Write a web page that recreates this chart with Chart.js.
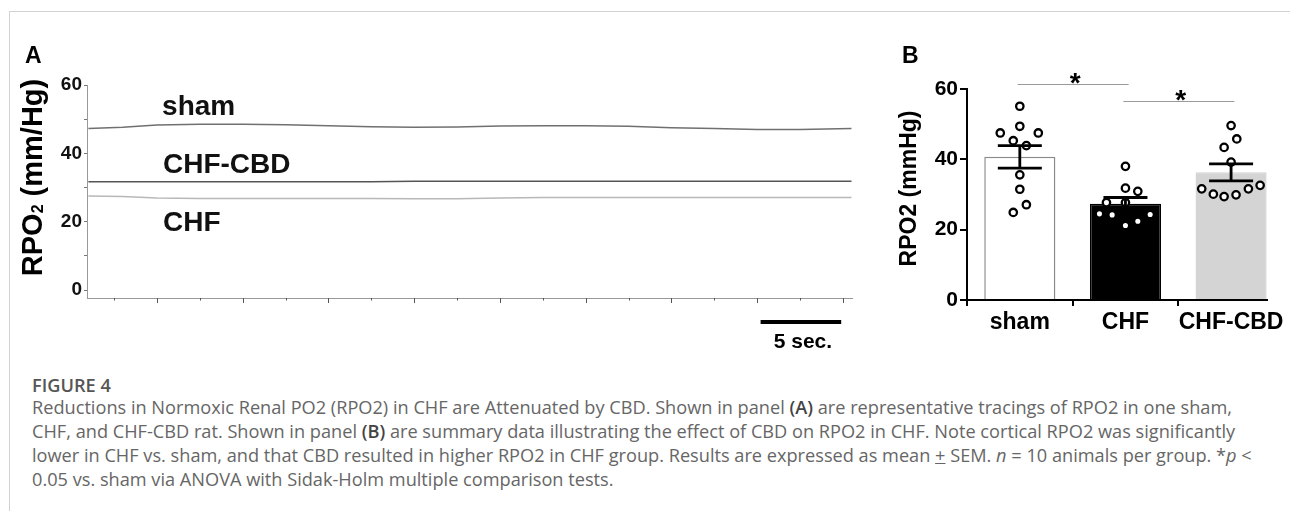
<!DOCTYPE html>
<html><head><meta charset="utf-8">
<script src="https://cdn.jsdelivr.net/npm/chart.js@4.4.0/dist/chart.umd.min.js"></script>
<style>
html,body{margin:0;padding:0;background:#fff;}
body{width:1290px;height:511px;position:relative;overflow:hidden;font-family:"Liberation Sans",Arial,sans-serif;}
#frame{position:absolute;left:9px;top:11px;right:-2px;bottom:-2px;border-top:1px solid #d2d2d2;border-left:1px solid #d2d2d2;}
#cA{position:absolute;left:0;top:0;}
#cB{position:absolute;left:880px;top:0;}
.cap{position:absolute;left:32px;white-space:nowrap;font-family:"Open Sans",Lato,"Liberation Sans",sans-serif;font-size:17px;color:#666;line-height:24px;}
.cap b{color:#444;font-weight:600;}
</style></head>
<body>
<div id="frame"></div>
<canvas id="cA" width="880" height="360"></canvas>
<canvas id="cB" width="410" height="360"></canvas>
<div class="cap" style="top:373px;color:#555;font-weight:600;">FIGURE 4</div>
<div class="cap" style="top:395px;">Reductions in Normoxic Renal PO2 (RPO2) in CHF are Attenuated by CBD. Shown in panel <b>(A)</b> are representative tracings of RPO2 in one sham,</div>
<div class="cap" id="refLine" style="top:419px;">CHF, and CHF-CBD rat. Shown in panel <b>(B)</b> are summary data illustrating the effect of CBD on RPO2 in CHF. Note cortical RPO2 was significantly</div>
<div class="cap" style="top:443px;">lower in CHF vs. sham, and that CBD resulted in higher RPO2 in CHF group. Results are expressed as mean <u>+</u> SEM. <i>n</i> = 10 animals per group. *<i>p</i> &lt;</div>
<div class="cap" style="top:467px;">0.05 vs. sham via ANOVA with Sidak-Holm multiple comparison tests.</div>
<script>
// ---------- Panel A: representative tracings ----------
const traceTime = [-4, -2, 0, 2.5, 5, 7.5, 10, 12.5, 15, 17.5, 20, 22.5, 25, 27.5, 30, 32.5, 35, 37.5, 40.5];
const shamTrace = [47.3, 47.6, 48.3, 48.5, 48.5, 48.4, 48.1, 47.8, 47.6, 47.7, 48.0, 48.1, 48.1, 47.9, 47.5, 47.3, 47.0, 47.0, 47.3];
const chfCbdTrace = [31.7, 31.7, 31.7, 31.7, 31.7, 31.7, 31.7, 31.7, 31.8, 31.8, 31.8, 31.8, 31.8, 31.8, 31.8, 31.8, 31.8, 31.8, 31.8];
const chfTrace = [27.5, 27.4, 26.9, 26.8, 26.8, 26.8, 26.8, 26.8, 26.7, 26.7, 26.9, 27.1, 27.1, 27.1, 27.1, 27.1, 27.1, 27.1, 27.1];
const traceNames = ['sham', 'CHF-CBD', 'CHF'];
const traceYLabels = [0, 20, 40, 60];

// ---------- Panel B: summary data ----------
const groups = ['sham', 'CHF', 'CHF-CBD'];
const groupMeans = [40.7, 27.4, 36.3];
const groupSEM = [3.2, 1.75, 2.4];
const shamPoints = [55.1, 49.4, 47.5, 47.5, 45.3, 43.9, 35.6, 31.5, 27.1, 24.9];
const shamJitter = [0, 0, -0.185, 0.175, -0.062, 0.062, 0, 0, 0.062, -0.062];
const chfPoints = [38.0, 31.8, 30.9, 27.7, 27.7, 24.5, 24.2, 24.3, 22.4, 21.2];
const chfJitter = [0, 0, 0.117, -0.18, 0, -0.246, -0.126, 0.234, 0.117, 0];
const cbdPoints = [49.6, 45.8, 43.4, 39.2, 31.6, 30.1, 29.4, 29.9, 31.6, 32.6];
const cbdJitter = [0, 0.054, -0.066, 0, -0.278, -0.168, -0.066, 0.047, 0.164, 0.275];
const sigPairs = [[0, 1], [1, 2]];
const sigLevels = [61.5, 56.5];
const sigMarks = ['*', '*'];

const FONT = '"Liberation Sans", Arial, sans-serif';

// ===== Panel A =====
const labelPosA = [
  {x: 0.3, y: 51.2},
  {x: 0.35, y: 34.2},
  {x: 0.35, y: 17.4}
];
const panelAPlugin = {
  id: 'panelA',
  afterDraw(chart) {
    const {ctx, scales: {x, y}} = chart;
    ctx.save();
    ctx.strokeStyle = '#555';
    ctx.lineWidth = 1;
    x.ticks.forEach(t => {
      const px = Math.round(x.getPixelForValue(t.value)) + 0.5;
      const len = (Math.abs(t.value % 5) < 1e-6) ? 5 : 2.5;
      ctx.beginPath();
      ctx.moveTo(px, x.top);
      ctx.lineTo(px, x.top + len);
      ctx.stroke();
    });
    ctx.fillStyle = '#111';
    ctx.font = 'bold 28px ' + FONT;
    ctx.textAlign = 'left';
    ctx.textBaseline = 'alphabetic';
    traceNames.forEach((n, i) => {
      ctx.fillText(n, x.getPixelForValue(labelPosA[i].x), y.getPixelForValue(labelPosA[i].y));
    });
    const x0 = x.getPixelForValue(35.2), x1 = x.getPixelForValue(39.9);
    const by = x.bottom - 38;
    ctx.fillStyle = '#000';
    ctx.fillRect(x0, by - 2, x1 - x0, 4);
    ctx.font = 'bold 21px ' + FONT;
    ctx.textAlign = 'center';
    ctx.fillText('5 sec.', (x0 + x1) / 2 + 2, by + 26);
    ctx.textAlign = 'left';
    ctx.font = 'bold 23px ' + FONT;
    ctx.fillText('A', 25, 63);
    ctx.translate(42, 177.5);
    ctx.rotate(-Math.PI / 2);
    const big = 'bold 29px ' + FONT, small = 'bold 16px ' + FONT;
    ctx.font = big; const w1 = ctx.measureText('RPO').width; const w3 = ctx.measureText(' (mm/Hg)').width;
    ctx.font = small; const w2 = ctx.measureText('2').width;
    let sx = -(w1 + w2 + w3) / 2;
    ctx.textAlign = 'left';
    ctx.font = big; ctx.fillText('RPO', sx, 0); sx += w1;
    ctx.font = small; ctx.fillText('2', sx, 1); sx += w2;
    ctx.font = big; ctx.fillText(' (mm/Hg)', sx, 0);
    ctx.restore();
  }
};

new Chart(document.getElementById('cA'), {
  type: 'line',
  data: {
    datasets: [
      {data: traceTime.map((t, i) => ({x: t, y: shamTrace[i]})), borderColor: '#707070', borderWidth: 1.5},
      {data: traceTime.map((t, i) => ({x: t, y: chfCbdTrace[i]})), borderColor: '#555555', borderWidth: 1.5},
      {data: traceTime.map((t, i) => ({x: t, y: chfTrace[i]})), borderColor: '#b8b8b8', borderWidth: 1.5}
    ]
  },
  options: {
    responsive: false, animation: false,
    elements: {point: {radius: 0}, line: {tension: 0}},
    layout: {padding: {top: 85, right: 28, left: 0, bottom: 0}},
    plugins: {legend: {display: false}, tooltip: {enabled: false}},
    scales: {
      x: {
        type: 'linear', min: -4.08, max: 40.53,
        afterBuildTicks: s => { const tk = []; for (let v = -2.5; v <= 40.5; v += 2.5) tk.push({value: v}); s.ticks = tk; },
        ticks: {display: false},
        grid: {display: false},
        border: {color: '#999', width: 1},
        afterFit: s => { s.height = 62; }
      },
      y: {
        min: -2.34, max: 60,
        afterBuildTicks: s => { const tk = []; for (let v = 0; v <= 60; v += 10) tk.push({value: v}); s.ticks = tk; },
        ticks: {callback: v => traceYLabels.includes(v) ? String(v) : '', color: '#111', font: {family: FONT, size: 19, weight: 'bold'}, padding: 2},
        grid: {drawOnChartArea: false, tickLength: 3, color: '#777', lineWidth: 1},
        border: {color: '#999', width: 1},
        afterFit: s => { s.width = 87; }
      }
    }
  },
  plugins: [panelAPlugin]
});

// ===== Panel B =====
const panelBPlugin = {
  id: 'panelB',
  afterDatasetsDraw(chart) {
    const {ctx, scales: {x, y}} = chart;
    ctx.save();
    ctx.strokeStyle = '#000';
    ctx.lineWidth = 2.8;
    groups.forEach((g, i) => {
      const px = x.getPixelForValue(i);
      const yt = y.getPixelForValue(groupMeans[i] + groupSEM[i]);
      const yb = y.getPixelForValue(groupMeans[i] - groupSEM[i]);
      ctx.beginPath();
      ctx.moveTo(px, yt); ctx.lineTo(px, yb);
      ctx.moveTo(px - 22, yt); ctx.lineTo(px + 22, yt);
      ctx.moveTo(px - 22, yb); ctx.lineTo(px + 22, yb);
      ctx.stroke();
    });
    ctx.restore();
  },
  afterDraw(chart) {
    const {ctx, scales: {x, y}} = chart;
    ctx.save();
    sigPairs.forEach((p, i) => {
      const py = Math.round(y.getPixelForValue(sigLevels[i])) + 0.5;
      const xa = x.getPixelForValue(p[0] - 0.02), xb = x.getPixelForValue(p[1] + 0.03);
      ctx.strokeStyle = '#9a9a9a';
      ctx.lineWidth = 1.2;
      ctx.beginPath(); ctx.moveTo(xa, py); ctx.lineTo(xb, py); ctx.stroke();
      ctx.fillStyle = '#000';
      ctx.font = 'bold 28px ' + FONT;
      ctx.textAlign = 'center';
      ctx.textBaseline = 'alphabetic';
      ctx.fillText(sigMarks[i], (xa + xb) / 2 + 2, py + 7.5);
    });
    ctx.fillStyle = '#000';
    ctx.textAlign = 'left';
    ctx.font = 'bold 23px ' + FONT;
    ctx.fillText('B', 22, 63);
    ctx.translate(36, 188.5);
    ctx.rotate(-Math.PI / 2);
    ctx.textAlign = 'center';
    ctx.font = 'bold 23px ' + FONT;
    ctx.fillText('RPO2 (mmHg)', 0, 0);
    ctx.restore();
  }
};

const scatterSet = (vals, jit, i) => ({
  type: 'scatter',
  data: vals.map((v, k) => ({x: i + jit[k], y: v})),
  pointRadius: 3.7, pointBorderWidth: 2.3, borderColor: '#000', backgroundColor: '#fff',
  pointBackgroundColor: '#fff', pointBorderColor: '#000', order: 1
});

new Chart(document.getElementById('cB'), {
  type: 'bar',
  data: {
    datasets: [
      {
        type: 'bar', order: 2,
        data: groups.map((g, i) => ({x: i, y: groupMeans[i]})),
        backgroundColor: ['#ffffff', '#000000', '#d4d4d4'],
        borderColor: ['#8a8a8a', '#000000', '#d4d4d4'],
        borderWidth: 1.5,
        barPercentage: 0.673, categoryPercentage: 1
      },
      scatterSet(shamPoints, shamJitter, 0),
      scatterSet(chfPoints, chfJitter, 1),
      scatterSet(cbdPoints, cbdJitter, 2)
    ]
  },
  options: {
    responsive: false, animation: false,
    layout: {padding: {top: 89, right: 23, left: 0, bottom: 0}},
    plugins: {legend: {display: false}, tooltip: {enabled: false}},
    scales: {
      x: {
        type: 'linear', min: -0.5, max: 2.34, offset: false,
        afterBuildTicks: s => { s.ticks = groups.map((g, i) => ({value: i})); },
        ticks: {callback: v => groups[v], color: '#000', font: {family: FONT, size: 23, weight: 'bold'}, padding: 3, autoSkip: false, maxRotation: 0},
        grid: {drawOnChartArea: false, tickLength: 6, color: '#000', lineWidth: 2},
        border: {color: '#000', width: 2},
        afterFit: s => { s.height = 60; }
      },
      y: {
        min: 0, max: 60,
        ticks: {stepSize: 20, color: '#000', font: {family: FONT, size: 21, weight: 'bold'}, padding: 2},
        grid: {drawOnChartArea: false, tickLength: 7, color: '#000', lineWidth: 2},
        border: {color: '#000', width: 2},
        afterFit: s => { s.width = 87; }
      }
    }
  },
  plugins: [panelBPlugin]
});

// uniform caption size: second line spans about 1204 px in the reference
(function () {
  const ref = document.getElementById('refLine');
  const w = ref.getBoundingClientRect().width;
  if (w > 0) {
    const size = (17 * 1204 / w).toFixed(2) + 'px';
    document.querySelectorAll('.cap').forEach(el => { el.style.fontSize = size; });
  }
})();
</script>
</body></html>
